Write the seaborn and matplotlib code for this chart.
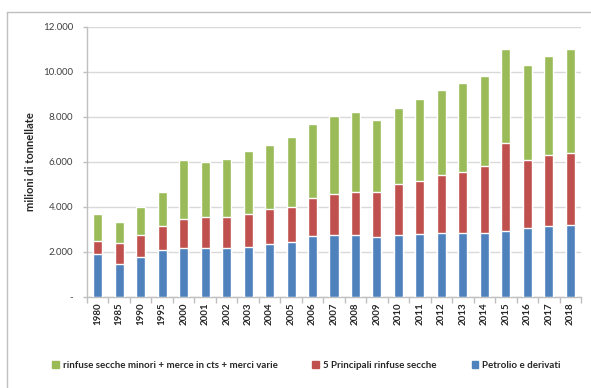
import numpy as np
import pandas as pd
import matplotlib
matplotlib.use("Agg")
import matplotlib.pyplot as plt
from matplotlib.lines import Line2D
from matplotlib.ticker import FuncFormatter, FixedLocator
import seaborn as sns

# Traffico merci (milioni di tonnellate), per anno e tipologia
anni = ["1980", "1985", "1990", "1995", "2000", "2001", "2002", "2003", "2004",
        "2005", "2006", "2007", "2008", "2009", "2010", "2011", "2012", "2013",
        "2014", "2015", "2016", "2017", "2018"]
petrolio = [1880, 1470, 1760, 2060, 2150, 2180, 2150, 2210, 2330, 2410, 2710,
            2760, 2740, 2640, 2740, 2790, 2830, 2830, 2830, 2930, 3050, 3140, 3190]
principali = [610, 900, 1000, 1100, 1320, 1350, 1410, 1480, 1580, 1590, 1660,
              1800, 1910, 2000, 2250, 2350, 2560, 2730, 2960, 3910, 3020, 3160, 3210]
minori = [1200, 950, 1230, 1490, 2620, 2460, 2540, 2780, 2830, 3100, 3320,
          3450, 3570, 3230, 3400, 3630, 3800, 3940, 4030, 4170, 4210, 4410, 4590]

serie = ["rinfuse secche minori + merce in cts + merci varie",
         "5 Principali rinfuse secche",
         "Petrolio e derivati"]
colori = ["#9BBB59", "#C0504D", "#4F81BD"]

df = pd.DataFrame({"anno": anni, "petrolio": petrolio,
                   "principali": principali, "minori": minori})
df["liv_blu"] = df["petrolio"]
df["liv_rosso"] = df["petrolio"] + df["principali"]
df["liv_verde"] = df["liv_rosso"] + df["minori"]

sns.set_theme(style="white")
plt.rcParams["font.family"] = ["Lato", "DejaVu Sans"]

fig = plt.figure(figsize=(5.91, 3.88), dpi=100)
ax = fig.add_axes([87 / 591, 1 - 296.7 / 388, 494 / 591, 270 / 388])

# stacked bars: draw cumulative levels from the tallest down
for col, c in zip(["liv_verde", "liv_rosso", "liv_blu"], colori):
    sns.barplot(data=df, x="anno", y=col, color=c, width=0.42,
                saturation=1, ax=ax, zorder=3)

ax.set_xlim(-0.5, len(anni) - 0.5)
ax.set_ylim(0, 12000)
ax.set_yticks(np.arange(0, 12001, 2000))

def fmt(v, pos):
    if v == 0:
        return "-"
    return f"{int(v):,}".replace(",", ".")

ax.yaxis.set_major_formatter(FuncFormatter(fmt))
ax.grid(axis="y", color="#D9D9D9", linewidth=1, zorder=0)
ax.set_axisbelow(True)

for s in ["top", "right"]:
    ax.spines[s].set_visible(False)
for s in ["left", "bottom"]:
    ax.spines[s].set_color("#BFBFBF")
    ax.spines[s].set_linewidth(1)

ax.set_xlabel("")
ax.set_ylabel("milioni di tonnellate", fontsize=8, fontweight="bold",
              color="#262626")
ax.yaxis.set_label_coords((36 - 87) / 494, 0.5)

ax.tick_params(axis="y", which="major", left=True, length=3, width=1,
               color="#BFBFBF", labelsize=7, labelcolor="#404040", pad=7)
ax.tick_params(axis="x", which="major", length=0, labelsize=7,
               labelcolor="#262626", pad=4)
ax.xaxis.set_minor_locator(FixedLocator(np.arange(-0.5, len(anni), 1)))
ax.tick_params(axis="x", which="minor", bottom=True, length=4, width=1,
               color="#BFBFBF")
for lab in ax.get_xticklabels():
    lab.set_rotation(90)
    lab.set_fontweight("bold")

handles = [plt.Rectangle((0, 0), 1, 1, color=c) for c in colori]
fig.legend(handles, serie, loc="center left", bbox_to_anchor=(48 / 591, 1 - 365 / 388),
           ncol=3, frameon=False, handlelength=0.7, handleheight=0.7,
           handletextpad=0.4, columnspacing=3.6, borderaxespad=0,
           prop={"weight": "bold", "size": 7})
for t in fig.legends[0].get_texts():
    t.set_color("#262626")

# chart-area border
fig.add_artist(Line2D([7 / 591, 7 / 591], [0, 1 - 12 / 388], color="#BFBFBF", linewidth=1))
fig.add_artist(Line2D([7 / 591, 1], [1 - 12 / 388, 1 - 12 / 388], color="#BFBFBF", linewidth=1))

fig.savefig("out.png", dpi=100)
